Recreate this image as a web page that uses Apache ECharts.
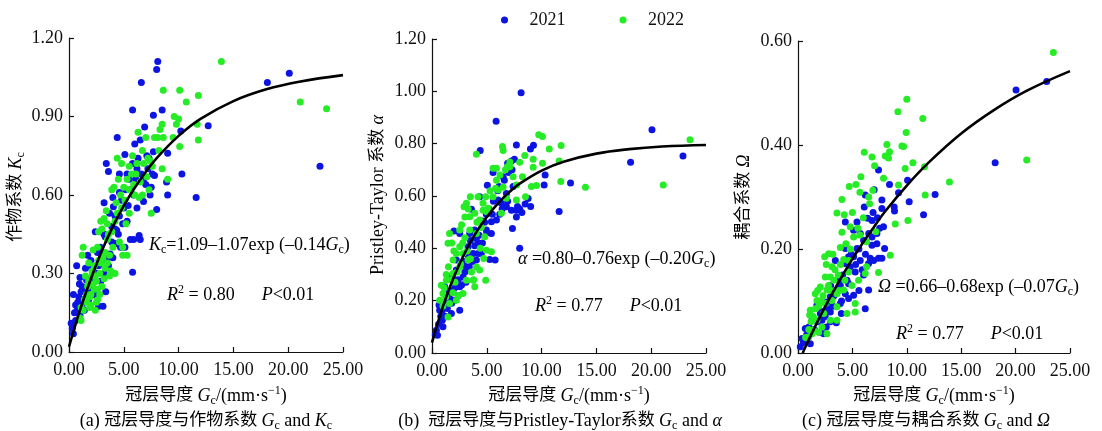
<!DOCTYPE html>
<html>
<head>
<meta charset="utf-8">
<script src="https://cdn.jsdelivr.net/npm/echarts@6/dist/echarts.min.js"></script>
<style>
    html,body{margin:0;padding:0;background:#fff;}
    #main{width:1102px;height:431px;}
</style>
</head>
<body>
<div id="main"></div>
<script type="text/javascript">
// x ticks (Gc) shared by the three panels
var xTicks = [0, 5, 10, 15, 20, 25];
var years = ['2021', '2022'];

// (a) Gc vs Kc
var kc2021 = [
    [8.1,1.11],[8.0,1.08],[6.6,1.03],[20.1,1.065],[18.1,1.03],[22.9,0.71],[12.7,0.865],[11.6,0.59],[10.3,0.68],[10.2,0.845],
    [8.5,0.925],[5.8,0.925],[7.7,0.905],[6.9,0.86],[4.4,0.82],[9.0,0.76],[9.0,0.60],[8.9,0.65],[8.0,0.545],[5.8,0.305],
    [3.4,0.72],[3.6,0.69],[3.2,0.57],[0.7,0.33],[0.4,0.22],[0.2,0.11],[0.4,0.07],[3.35,0.23],[3.1,0.175],[2.7,0.175],
    [6.4,0.445],[6.5,0.43],[5.9,0.43],[5.3,0.68],[5.1,0.755],[6.0,0.795],[6.5,0.81],[7.1,0.75],[7.7,0.765],[7.8,0.675],
    [6.8,0.575],[5.3,0.50],[4.9,0.49],[4.35,0.465],[4.3,0.415],[4.7,0.40],[5.1,0.40],[3.75,0.375],[2.85,0.40],[2.4,0.46],
    [1.9,0.325],[1.6,0.275],[1.0,0.285],[0.95,0.26],[0.75,0.16],[1.0,0.14],[1.3,0.20],[3.7,0.53],[4.05,0.555],[4.6,0.61],
    [5.4,0.56],[5.6,0.62],[6.2,0.70],[5.8,0.72],[6.1,0.66],[7.3,0.74],[7.0,0.64],[7.6,0.68],[4.8,0.58],[4.2,0.52],
    [3.9,0.48],[3.3,0.44],[3.0,0.35],[2.5,0.30],[2.2,0.32],[2.0,0.24],[1.5,0.23],[1.2,0.18],[0.9,0.21],[0.6,0.12],
    [0.5,0.15],[0.3,0.09],[1.7,0.37],[2.6,0.38],[3.6,0.33],[4.0,0.36],[4.5,0.45],[5.6,0.43],[6.2,0.55],[7.4,0.60],
    [0.8,0.19],[1.1,0.23],[1.4,0.16],[1.8,0.20],[2.1,0.27],[2.3,0.22],[2.9,0.27],[3.2,0.30],[3.5,0.36],[2.0,0.35],
    [2.7,0.33],[1.2,0.25],[0.6,0.18],[1.5,0.32],[3.9,0.42],[4.2,0.47],[4.6,0.52],[5.0,0.55],[5.5,0.66],[6.3,0.74],
    [6.6,0.68],[7.2,0.70],[5.2,0.62],[4.6,0.68],[3.2,0.45],[2.9,0.46],[4.0,0.59],[5.9,0.60],[6.8,0.66],[7.5,0.63]
];
var kc2022 = [
    [13.9,1.11],[21.1,0.955],[23.5,0.93],[11.8,0.98],[10.7,0.955],[10.1,1.0],[8.6,1.0],[11.8,0.81],[11.7,0.87],[10.1,0.785],
    [9.6,0.90],[9.8,0.87],[10.0,0.89],[9.5,0.82],[8.6,0.82],[8.5,0.87],[8.3,0.85],[8.1,0.82],[7.8,0.82],[8.2,0.77],
    [8.5,0.70],[9.0,0.66],[7.0,0.82],[6.3,0.84],[5.5,0.71],[4.4,0.74],[4.8,0.72],[5.8,0.75],[6.8,0.72],[7.4,0.73],
    [7.5,0.53],[6.4,0.59],[6.7,0.60],[6.0,0.60],[5.5,0.53],[5.2,0.49],[5.0,0.63],[4.7,0.60],[4.5,0.66],[3.9,0.62],
    [4.3,0.57],[3.4,0.54],[3.2,0.51],[2.9,0.50],[2.7,0.46],[3.0,0.47],[3.6,0.45],[4.2,0.30],[3.8,0.31],[3.7,0.29],
    [3.3,0.32],[4.9,0.37],[5.3,0.37],[4.9,0.40],[4.6,0.42],[4.0,0.40],[3.5,0.43],[2.6,0.40],[2.2,0.39],[1.3,0.40],
    [1.2,0.37],[1.8,0.34],[1.5,0.29],[2.1,0.29],[2.5,0.27],[2.3,0.24],[2.8,0.22],[2.6,0.20],[1.9,0.21],[1.6,0.19],
    [1.3,0.16],[1.0,0.13],[1.1,0.12],[2.0,0.18],[2.4,0.16],[3.0,0.25],[3.2,0.28],[2.9,0.34],[2.3,0.33],[1.7,0.25],
    [6.5,0.65],[6.1,0.68],[5.9,0.64],[7.1,0.67],[7.3,0.62],[5.3,0.66],
    [1.4,0.20],[1.6,0.22],[1.8,0.27],[2.0,0.22],[2.2,0.26],[2.4,0.29],[2.6,0.24],[2.8,0.30],[3.1,0.36],[3.3,0.38],
    [3.5,0.34],[3.7,0.37],[2.1,0.31],[1.9,0.17],[2.5,0.19],[2.7,0.35],[3.9,0.46],[4.2,0.50],[4.4,0.53],[4.8,0.55],
    [5.1,0.58],[5.5,0.62],[5.7,0.68],[6.2,0.72],[6.7,0.77],[7.2,0.74],[7.6,0.71],[4.1,0.63],[3.5,0.49],[1.1,0.17]
];
var kcFit = [[0,0.02],[1,0.16],[2,0.28],[3,0.387],[4,0.479],[5,0.559],[6,0.628],[7,0.688],[8,0.741],
    [10,0.826],[12,0.891],[15,0.959],[18,1.004],[21,1.033],[25,1.058]];

// (b) Gc vs Pristley-Taylor alpha
var pt2021 = [
    [8.13,0.995],[5.85,0.886],[20.07,0.853],[18.12,0.729],[22.9,0.753],[11.6,0.541],[12.64,0.65],[10.23,0.642],[10.32,0.68],[8.0,0.40],
    [7.7,0.795],[9.26,0.794],[8.98,0.78],[4.4,0.774],[7.52,0.74],[7.25,0.734],[6.9,0.725],[5.57,0.69],[6.49,0.674],[6.12,0.636],
    [5.05,0.641],[4.35,0.597],[3.6,0.549],[2.53,0.457],[2.0,0.466],[7.25,0.546],[7.7,0.546],[8.2,0.537],[8.5,0.569],[9.0,0.56],
    [7.34,0.476],[5.42,0.502],[5.88,0.508],[5.42,0.457],[5.76,0.355],[5.27,0.357],[4.05,0.355],[3.75,0.38],[4.05,0.438],[3.14,0.329],
    [2.53,0.253],[2.53,0.163],[1.77,0.151],[0.7,0.163],[0.4,0.087],[0.64,0.183],[0.94,0.125],[1.46,0.227],[1.92,0.24],[2.22,0.317],
    [3.29,0.406],[4.2,0.419],[4.6,0.504],[4.96,0.53],[6.33,0.572],[6.79,0.61],[7.4,0.636],[6.79,0.559],[6.03,0.585],[4.96,0.47],
    [2.22,0.355],[1.6,0.29],[1.16,0.253],[0.5,0.068],[1.0,0.10],[2.07,0.202],[2.83,0.29],[3.44,0.457],[3.9,0.47],[7.7,0.52],
    [8.77,0.59],[6.18,0.53],[4.2,0.38],[1.3,0.19],[0.8,0.14],[1.6,0.21],[2.4,0.28],[3.0,0.31],[3.3,0.37],[4.6,0.42],[5.0,0.46],
    [0.3,0.07],[0.6,0.11],[0.9,0.16],[1.2,0.14],[1.4,0.17],[1.8,0.19],[2.1,0.25],[2.4,0.22],[2.7,0.26],[3.1,0.27],
    [3.4,0.33],[3.7,0.35],[3.9,0.41],[4.3,0.45],[4.8,0.50],[5.2,0.55],[5.6,0.58],[6.0,0.62],[6.6,0.66],[7.0,0.69],
    [7.3,0.70],[6.4,0.55],[5.5,0.53],[7.8,0.56],[8.0,0.55],[6.9,0.58],[3.5,0.43],[4.5,0.38],[2.9,0.35],[1.9,0.29]
];
var pt2022 = [
    [23.54,0.815],[21.1,0.642],[14.0,0.633],[11.78,0.793],[11.75,0.655],[11.6,0.734],[10.7,0.78],[10.08,0.827],[9.74,0.834],[9.53,0.64],
    [10.08,0.725],[9.23,0.71],[9.07,0.636],[8.53,0.597],[8.47,0.755],[8.25,0.674],[8.0,0.729],[6.43,0.789],[6.49,0.774],[4.05,0.76],
    [4.2,0.597],[5.57,0.706],[5.88,0.706],[7.1,0.712],[7.4,0.674],[6.49,0.633],[6.03,0.623],[5.57,0.597],[4.9,0.597],[4.66,0.572],
    [3.5,0.597],[3.14,0.572],[2.92,0.559],[2.53,0.47],[1.6,0.457],[1.46,0.419],[2.22,0.38],[3.44,0.47],[4.35,0.508],[4.05,0.457],
    [4.81,0.444],[4.96,0.393],[5.42,0.387],[4.9,0.278],[3.9,0.253],[3.75,0.278],[3.14,0.278],[2.83,0.227],[2.22,0.202],[1.6,0.189],
    [1.46,0.138],[1.0,0.227],[0.85,0.259],[1.31,0.278],[1.92,0.304],[2.53,0.329],[2.83,0.38],[3.29,0.355],[4.05,0.329],[4.35,0.317],
    [4.72,0.361],[2.53,0.406],[1.92,0.355],[1.25,0.214],[0.7,0.202],[3.44,0.521],[3.9,0.534],[4.66,0.546],[5.12,0.553],[6.79,0.591],
    [6.33,0.534],[7.7,0.585],[5.88,0.66],[6.88,0.712],[7.7,0.642],[9.23,0.74],
    [1.1,0.25],[1.3,0.30],[1.5,0.33],[1.7,0.28],[1.9,0.23],[2.1,0.27],[2.3,0.31],[2.6,0.34],[2.8,0.42],[3.0,0.44],
    [3.2,0.39],[3.5,0.36],[3.6,0.31],[3.8,0.28],[2.4,0.22],[2.0,0.39],[2.7,0.49],[3.0,0.52],[3.3,0.55],[4.1,0.50],
    [4.5,0.48],[5.0,0.54],[5.3,0.62],[5.8,0.63],[6.2,0.68],[6.7,0.70],[7.1,0.73],[1.0,0.18],[1.8,0.42],[4.4,0.40]
];
var ptFit = [[0,0.04],[1,0.178],[2,0.291],[3,0.383],[4,0.459],[5,0.52],[6,0.571],[7,0.613],[8,0.647],
    [10,0.697],[12,0.731],[15,0.762],[18,0.779],[21,0.789],[25,0.795]];

// (c) Gc vs decoupling coefficient Omega
var om2021 = [
    [22.86,0.522],[20.04,0.506],[18.12,0.366],[12.6,0.305],[11.54,0.266],[10.22,0.291],[10.07,0.332],[9.24,0.308],[8.84,0.281],[8.87,0.273],
    [8.41,0.324],[7.4,0.352],[7.0,0.314],[6.18,0.304],[6.09,0.281],[6.4,0.259],[6.8,0.255],[7.71,0.294],[7.71,0.278],[7.86,0.243],
    [7.25,0.23],[6.8,0.223],[6.8,0.207],[7.96,0.201],[7.71,0.182],[7.4,0.182],[6.64,0.182],[6.49,0.172],[6.03,0.15],[6.18,0.085],
    [6.49,0.121],[5.72,0.178],[5.42,0.201],[5.11,0.185],[5.42,0.252],[5.11,0.236],[4.35,0.252],[4.35,0.201],[4.65,0.185],[4.35,0.172],
    [4.65,0.133],[4.35,0.114],[3.43,0.178],[3.89,0.13],[3.98,0.076],[3.52,0.058],[2.97,0.06],[2.36,0.037],[1.13,0.018],[0.21,0.012],
    [0.37,0.028],[0.67,0.047],[1.29,0.063],[2.05,0.076],[2.66,0.098],[2.97,0.108],[1.74,0.092],[2.2,0.063],[2.97,0.079],[3.89,0.095],
    [4.65,0.105],[5.11,0.111],[6.95,0.178],[7.25,0.21],[6.03,0.217],[5.72,0.23],[4.8,0.166],[5.26,0.156],
    [0.5,0.02],[0.8,0.035],[1.0,0.05],[1.5,0.045],[1.8,0.06],[2.2,0.08],[2.5,0.07],[2.8,0.085],[3.2,0.09],[3.3,0.11],
    [3.6,0.12],[3.8,0.14],[4.1,0.15],[4.5,0.14],[4.9,0.19],[5.3,0.17],[5.6,0.20],[6.2,0.19],[6.5,0.23],[6.9,0.27],
    [7.3,0.26],[3.0,0.13],[2.6,0.05],[2.0,0.04],[4.0,0.10],[5.6,0.12],[5.9,0.16],[7.5,0.24]
];
var om2022 = [
    [23.47,0.578],[21.02,0.371],[13.92,0.329],[11.69,0.304],[11.63,0.358],[11.47,0.451],[10.0,0.488],[9.94,0.424],[10.56,0.366],[9.85,0.355],
    [10.1,0.255],[9.18,0.464],[9.55,0.398],[9.7,0.397],[8.48,0.188],[8.94,0.248],[9.24,0.323],[8.41,0.387],[8.17,0.401],[8.02,0.379],
    [8.32,0.375],[6.09,0.386],[6.8,0.377],[7.04,0.36],[7.86,0.336],[6.58,0.287],[6.88,0.313],[5.78,0.339],[5.32,0.324],[4.71,0.32],
    [5.69,0.309],[4.04,0.295],[4.25,0.266],[3.58,0.269],[4.04,0.232],[4.8,0.243],[5.11,0.223],[5.69,0.227],[6.3,0.214],[7.16,0.233],
    [7.4,0.155],[6.3,0.166],[6.18,0.153],[5.26,0.095],[5.26,0.079],[4.5,0.076],[3.89,0.203],[2.82,0.191],[2.45,0.185],[3.12,0.166],
    [2.97,0.146],[2.51,0.146],[2.05,0.127],[1.59,0.114],[1.13,0.082],[1.07,0.073],[1.74,0.063],[2.36,0.076],[2.97,0.063],[3.58,0.063],
    [3.58,0.089],[3.58,0.114],[3.12,0.101],[2.66,0.121],[1.74,0.101],[1.44,0.044],[0.98,0.031],[1.9,0.04],[2.66,0.037],[1.29,0.037],
    [4.65,0.156],[4.19,0.121],[4.96,0.13],[5.57,0.14],[4.65,0.178],
    [0.7,0.03],[1.0,0.045],[1.2,0.06],[1.4,0.07],[1.6,0.085],[1.9,0.09],[2.1,0.10],[2.3,0.11],[2.5,0.095],[2.2,0.05],
    [2.8,0.13],[3.0,0.12],[3.3,0.14],[3.4,0.16],[3.7,0.15],[3.9,0.17],[4.2,0.18],[4.4,0.21],[3.2,0.19],[2.6,0.17],
    [1.8,0.12],[4.8,0.2],[5.5,0.24],[6.0,0.26],[6.5,0.30],[5.0,0.27],[4.3,0.14],[3.8,0.12]
];
var omFit = [[0.43,0],[1,0.026],[2,0.069],[3,0.109],[4,0.146],[5,0.181],[6,0.213],[7,0.243],[8,0.272],
    [10,0.322],[12,0.366],[15,0.422],[18,0.467],[21,0.504],[25,0.542]];

var blue = '#0c14e4', green = '#25ec25';
var serif = '"Liberation Serif","Times New Roman","Noto Sans CJK SC",serif';
var cjk = '"Liberation Serif","Noto Sans CJK SC",serif';

var grids = [
    {left: 69, top: 38, width: 274, height: 314},
    {left: 432, top: 39, width: 274, height: 314},
    {left: 798, top: 41, width: 272, height: 312}
];
var yMax = [1.2, 1.2, 0.6], yStep = [0.3, 0.2, 0.2];

function axisCommon() {
    return {
        axisLine: {show: true, lineStyle: {color: '#111', width: 1.2}},
        axisTick: {show: true, inside: true, length: 5, lineStyle: {color: '#111', width: 1.2}},
        splitLine: {show: false},
        axisLabel: {color: '#111', fontFamily: serif, fontSize: 18, formatter: function (v) { return v.toFixed(2); }}
    };
}
var xAxes = [], yAxes = [];
for (var i = 0; i < 3; i++) {
    var xa = axisCommon();
    xa.gridIndex = i; xa.type = 'value'; xa.min = xTicks[0]; xa.max = xTicks[xTicks.length - 1]; xa.interval = 5;
    xa.axisLabel.margin = 9;
    xAxes.push(xa);
    var ya = axisCommon();
    ya.gridIndex = i; ya.type = 'value'; ya.min = 0; ya.max = yMax[i]; ya.interval = yStep[i];
    ya.axisLabel.margin = 6;
    yAxes.push(ya);
}

function scatter(name, data, idx, color) {
    return {name: name, type: 'scatter', xAxisIndex: idx, yAxisIndex: idx, data: data,
        symbolSize: 7, itemStyle: {color: color, opacity: 1}, z: 2};
}
function fit(data, idx) {
    return {type: 'line', xAxisIndex: idx, yAxisIndex: idx, data: data, smooth: 0.4,
        showSymbol: false, lineStyle: {color: '#000', width: 2.6}, z: 5, silent: true};
}

var rich = {
    n: {fontFamily: serif, fontSize: 18, color: '#111', lineHeight: 22, verticalAlign: 'middle'},
    i: {fontFamily: serif, fontSize: 18, fontStyle: 'italic', color: '#111', lineHeight: 22, verticalAlign: 'middle'},
    s: {fontFamily: serif, fontSize: 12, color: '#111', lineHeight: 12, verticalAlign: 'bottom'},
    p: {fontFamily: serif, fontSize: 12, color: '#111', lineHeight: 12, verticalAlign: 'top'},
    c: {fontFamily: cjk, fontSize: 17, color: '#111', lineHeight: 22, verticalAlign: 'middle'}
};
function label(x, y, text, align, rot) {
    return {type: 'text', x: x, y: y, rotation: rot || 0,
        style: {text: text, rich: rich, align: align || 'left', verticalAlign: 'middle'}};
}
var xName = '{c|冠层导度 }{i|G}{s|c}{n|/(mm·s}{p|−1}{n|)}';

var chart = echarts.init(document.getElementById('main'));
chart.setOption({
    animation: false,
    backgroundColor: '#fff',
    legend: {
        data: years, top: 6, left: 496, itemWidth: 40, itemHeight: 7, itemGap: 54, icon: 'circle',
        textStyle: {fontFamily: serif, fontSize: 18, color: '#111'}
    },
    grid: grids,
    xAxis: xAxes,
    yAxis: yAxes,
    series: [
        scatter(years[0], kc2021, 0, blue), scatter(years[1], kc2022, 0, green), fit(kcFit, 0),
        scatter(years[0], pt2021, 1, blue), scatter(years[1], pt2022, 1, green), fit(ptFit, 1),
        scatter(years[0], om2021, 2, blue), scatter(years[1], om2022, 2, green), fit(omFit, 2)
    ],
    graphic: [
        label(149, 245, '{i|K}{s|c}{n|=1.09–1.07exp (–0.14}{i|G}{s|c}{n|)}'),
        label(167, 295, '{i|R}{p|2}{n| = 0.80      }{i|P}{n|<0.01}'),
        label(518, 259, '{i|α}{n| =0.80–0.76exp (–0.20}{i|G}{s|c}{n|)}'),
        label(535, 306, '{i|R}{p|2}{n| = 0.77      }{i|P}{n|<0.01}'),
        label(878, 287, '{i|Ω}{n| =0.66–0.68exp (–0.07}{i|G}{s|c}{n|)}'),
        label(896, 334, '{i|R}{p|2}{n| = 0.77      }{i|P}{n|<0.01}'),
        label(206, 396, xName, 'center'),
        label(569, 396, xName, 'center'),
        label(934, 396, xName, 'center'),
        label(206, 421, '{n|(a) }{c|冠层导度与作物系数 }{i|G}{s|c}{n| and }{i|K}{s|c}', 'center'),
        label(560, 421, '{n|(b)  }{c|冠层导度与}{n|Pristley-Taylor}{c|系数 }{i|G}{s|c}{n| and }{i|α}', 'center'),
        label(926, 421, '{n|(c) }{c|冠层导度与耦合系数 }{i|G}{s|c}{n| and }{i|Ω}', 'center'),
        label(16, 197, '{c|作物系数 }{i|K}{s|c}', 'center', Math.PI / 2),
        label(378, 195, '{n|Pristley-Taylor }{c|系数 }{i|α}', 'center', Math.PI / 2),
        label(744, 197, '{c|耦合系数 }{i|Ω}', 'center', Math.PI / 2)
    ]
});
</script>
</body>
</html>
